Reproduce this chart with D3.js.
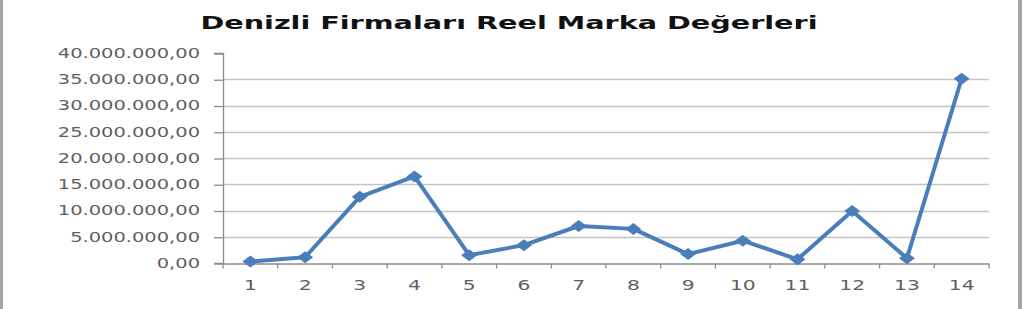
<!DOCTYPE html>
<html>
<head>
<meta charset="utf-8">
<script src="https://cdn.jsdelivr.net/npm/d3@7"></script>
<style>
  html, body { margin: 0; padding: 0; background: #fff; }
  svg { display: block; }
</style>
</head>
<body>
<svg id="chart" width="1022" height="309"></svg>
<script>
const title = 'Denizli Firmaları Reel Marka Değerleri'
const categories = ['1', '2', '3', '4', '5', '6', '7', '8', '9', '10', '11', '12', '13', '14']
const values = [
  300000, 1100000, 12600000, 16500000, 1500000, 3400000, 7050000,
  6500000, 1700000, 4250000, 700000, 9900000, 900000, 35100000
]
const yTicks = [0, 5000000, 10000000, 15000000, 20000000, 25000000, 30000000, 35000000, 40000000]

const svg = d3.select('#chart')
const plot = { left: 223, right: 989, top: 53, bottom: 263 }

const x = d3.scaleBand()
  .domain(categories)
  .range([plot.left, plot.right])

const y = d3.scaleLinear()
  .domain([0, 40000000])
  .range([plot.bottom, plot.top])

// turkish number format: 35.000.000,00
const fmt = d3.formatLocale({ decimal: ',', thousands: '.', grouping: [3], currency: ['', ''] }).format(',.2f')

// outer frame (only the sides show in the source)
svg.append('rect').attr('x', 0).attr('y', 0).attr('width', 3).attr('height', 309).attr('fill', '#a6a6a6')
svg.append('rect').attr('x', 1018).attr('y', 0).attr('width', 4).attr('height', 309).attr('fill', '#a6a6a6')

// gridlines
svg.append('g')
  .selectAll('line')
  .data(yTicks.filter(d => d > 0 && d < 40000000))
  .join('line')
  .attr('x1', plot.left)
  .attr('x2', plot.right)
  .attr('y1', d => Math.round(y(d)) + 0.5)
  .attr('y2', d => Math.round(y(d)) + 0.5)
  .attr('stroke', '#c4c4c4')
  .attr('stroke-width', 1.3)

// y axis
const yAxis = svg.append('g')
  .attr('transform', `translate(${plot.left},0)`)
  .call(d3.axisLeft(y).tickValues(yTicks).tickFormat(fmt).tickSize(9).tickPadding(14))
yAxis.select('.domain').attr('stroke', '#8c8c8c').attr('stroke-width', 1.3)
yAxis.selectAll('.tick line').attr('stroke', '#8c8c8c').attr('stroke-width', 1.3)
  .attr('transform', 'translate(0,0.5)')
yAxis.selectAll('.tick text')
  .attr('fill', '#606060')
  .attr('font-family', 'DejaVu Sans, Verdana, sans-serif')
  .attr('font-size', 13.5)

// x axis
const xAxis = svg.append('g')
  .attr('transform', `translate(0,${plot.bottom + 0.5})`)
  .call(d3.axisBottom(x).tickSize(0).tickPadding(17))
xAxis.select('.domain').attr('stroke', '#8c8c8c').attr('stroke-width', 1.3)
xAxis.selectAll('.tick text')
  .attr('fill', '#606060')
  .attr('font-family', 'DejaVu Sans, Verdana, sans-serif')
  .attr('font-size', 13.5)

// band boundary ticks
const bounds = categories.map(c => x(c)).concat([plot.right])
xAxis.append('g')
  .selectAll('line')
  .data(bounds)
  .join('line')
  .attr('x1', d => d)
  .attr('x2', d => d)
  .attr('y1', 0)
  .attr('y2', 5)
  .attr('stroke', '#8c8c8c')
  .attr('stroke-width', 1.3)

// stretch axis labels horizontally like the source
function stretch (sel, k) {
  sel.each(function () {
    const len = this.getComputedTextLength()
    d3.select(this)
      .attr('textLength', len * k)
      .attr('lengthAdjust', 'spacingAndGlyphs')
  })
}
stretch(yAxis.selectAll('.tick text'), 1.44)
stretch(xAxis.selectAll('.tick text'), 1.5)

// series
const cx = d => x(d.cat) + x.bandwidth() / 2
const points = categories.map((cat, i) => ({ cat, value: values[i] }))

svg.append('path')
  .datum(points)
  .attr('fill', 'none')
  .attr('stroke', '#4a7ebb')
  .attr('stroke-width', 4)
  .attr('stroke-linejoin', 'round')
  .attr('d', d3.line().x(cx).y(d => y(d.value)))

svg.append('g')
  .selectAll('path')
  .data(points)
  .join('path')
  .attr('transform', d => `translate(${cx(d)},${y(d.value)})`)
  .attr('d', 'M-8,0L0,-6L8,0L0,6Z')
  .attr('fill', '#4a7ebb')

// title
svg.append('text')
  .attr('x', 509)
  .attr('y', 29)
  .attr('text-anchor', 'middle')
  .attr('font-family', 'DejaVu Sans, Verdana, sans-serif')
  .attr('font-weight', 'bold')
  .attr('font-size', 17)
  .attr('fill', '#111')
  .attr('textLength', 617)
  .attr('lengthAdjust', 'spacingAndGlyphs')
  .text(title)
</script>
</body>
</html>
